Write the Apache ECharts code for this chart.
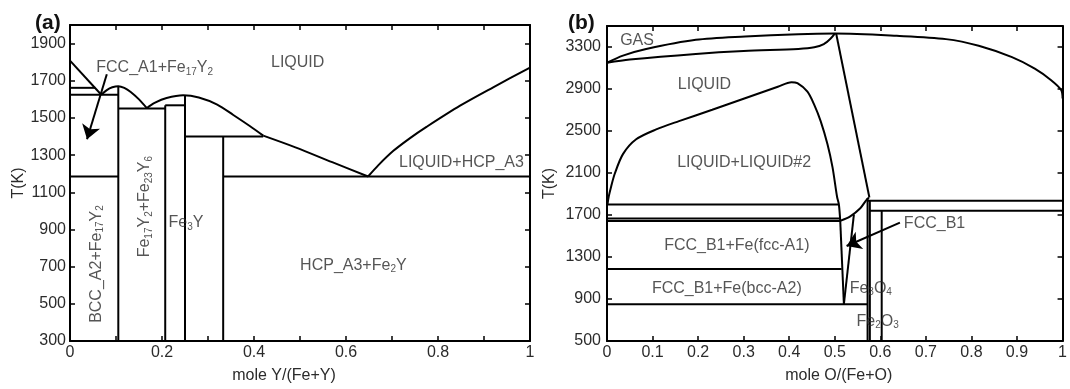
<!DOCTYPE html>
<html>
<head>
<meta charset="utf-8">
<script src="https://cdn.jsdelivr.net/npm/echarts@6/dist/echarts.min.js"></script>
<style>
  html, body { margin: 0; padding: 0; background: #fff; }
  #chart { width: 1070px; height: 389px; }
</style>
</head>
<body>
<div id="chart"></div>
<script>
// ---------- (a) Fe-Y ----------
const xLabelsA = [0, 0.2, 0.4, 0.6, 0.8, 1]
const yLabelsA = [300, 500, 700, 900, 1100, 1300, 1500, 1700, 1900]

// liquidus pieces (x = mole Y, T in K)
const liqFeSideA = [[0, 1808], [0.068, 1625]]
const liqFe17Y2A = [[0.068, 1625], [0.08, 1650], [0.092, 1665], [0.105, 1671], [0.118, 1662], [0.132, 1640], [0.15, 1600], [0.167, 1553]]
const liqFe3YA = [[0.167, 1553], [0.185, 1582], [0.21, 1607], [0.246, 1622], [0.28, 1610], [0.32, 1572], [0.355, 1516], [0.39, 1458], [0.42, 1405]]
const liqEutA = [[0.42, 1405], [0.49, 1342], [0.57, 1262], [0.648, 1185]]
const liqYSideA = [[0.648, 1185], [0.67, 1245], [0.703, 1323], [0.74, 1393], [0.775, 1452], [0.848, 1566], [0.92, 1665], [1, 1771]]

// invariant lines and compounds
const segmentsA = [
  [[0, 1662], [0.055, 1662]],
  [[0, 1625], [0.105, 1625]],
  [[0, 1185], [0.105, 1185]],
  [[0.333, 1185], [1, 1185]],
  [[0.105, 1551], [0.207, 1551]],
  [[0.207, 1568], [0.25, 1568]],
  [[0.25, 1400], [0.42, 1400]],
  [[0.105, 300], [0.105, 1671]],
  [[0.207, 300], [0.207, 1568]],
  [[0.25, 300], [0.25, 1622]],
  [[0.333, 300], [0.333, 1400]]
]
const arrowA = [[0.08, 1735], [0.037, 1385]]

// [text, x, T, rotate]
const labelsA = [
  ['LIQUID', 0.495, 1800, 0],
  ['FCC_A1+Fe_{17}Y_{2}', 0.184, 1770, 0],
  ['LIQUID+HCP_A3', 0.851, 1261, 0],
  ['HCP_A3+Fe_{2}Y', 0.616, 707, 0],
  ['BCC_A2+Fe_{17}Y_{2}', 0.058, 714, 90],
  ['Fe_{17}Y_{2}+Fe_{23}Y_{6}', 0.163, 1023, 90],
  ['Fe_{3}Y', 0.252, 935, 0]
]

// ---------- (b) Fe-O ----------
const xLabelsB = [0, 0.1, 0.2, 0.3, 0.4, 0.5, 0.6, 0.7, 0.8, 0.9, 1]
const yLabelsB = [500, 900, 1300, 1700, 2100, 2500, 2900, 3300]

const gasUpperB = [[0, 3150], [0.035, 3218], [0.086, 3281], [0.195, 3368], [0.303, 3400], [0.42, 3422], [0.5, 3428], [0.636, 3406], [0.744, 3375], [0.816, 3312], [0.889, 3203], [0.939, 3094], [0.975, 2984], [0.997, 2890], [1, 2810]]
const gasLowerB = [[0, 3150], [0.05, 3180], [0.195, 3234], [0.3, 3262], [0.42, 3282], [0.455, 3297], [0.476, 3328], [0.491, 3381], [0.5, 3428]]
const feoLiqB = [[0.503, 3428], [0.576, 1866]]
const gapB = [[0.001, 1800], [0.004, 1880], [0.009, 1970], [0.017, 2093], [0.035, 2280], [0.064, 2421], [0.108, 2515], [0.158, 2594], [0.231, 2702], [0.303, 2812], [0.375, 2922], [0.405, 2965], [0.418, 2955], [0.44, 2875], [0.455, 2749], [0.469, 2594], [0.484, 2374], [0.495, 2156], [0.505, 1874], [0.509, 1800], [0.512, 1644]]
const wusLiqB = [[0.512, 1644], [0.534, 1687], [0.556, 1764], [0.568, 1835], [0.575, 1866]]
const segmentsB = [
  [[0, 1800], [0.509, 1800]],
  [[0, 1667], [0.511, 1667]],
  [[0, 1644], [0.512, 1644]],
  [[0, 1185], [0.515, 1185]],
  [[0, 850], [0.572, 850]],
  [[0.572, 1835], [1, 1835]],
  [[0.577, 1741], [1, 1741]],
  [[0.512, 1644], [0.52, 850]],
  [[0.542, 1705], [0.52, 850]],
  [[0.572, 500], [0.572, 1862]],
  [[0.577, 500], [0.577, 1835]],
  [[0.603, 500], [0.603, 1741]]
]
const arrowB = [[0.643, 1628], [0.526, 1405]]

const labelsB = [
  ['GAS', 0.066, 3359, 0],
  ['LIQUID', 0.214, 2943, 0],
  ['LIQUID+LIQUID#2', 0.301, 2202, 0],
  ['FCC_B1+Fe(fcc-A1)', 0.285, 1405, 0],
  ['FCC_B1+Fe(bcc-A2)', 0.263, 999, 0],
  ['FCC_B1', 0.719, 1618, 0],
  ['Fe_{3}O_{4}', 0.579, 999, 0],
  ['Fe_{2}O_{3}', 0.594, 686, 0]
]

const FONT = '"Liberation Sans", Arial, sans-serif'
const TXT = '#2b2b2b'

const chart = echarts.init(document.getElementById('chart'))

function pick(list, v) {
  const m = list.find(l => Math.abs(l - v) < 1e-6)
  return m === undefined ? '' : String(m)
}

// 'Fe_{17}Y_{2}' -> rich text with subscripts
function toRich(s) {
  return s.split(/(_\{[^}]*\})/).filter(p => p).map(p =>
    p.startsWith('_{') ? '{s|' + p.slice(2, -1) + '}' : '{n|' + p + '}'
  ).join('')
}

const rich = {
  n: { fontSize: 16, fontFamily: FONT, color: TXT, lineHeight: 18 },
  s: { fontSize: 10, fontFamily: FONT, color: TXT, verticalAlign: 'bottom' }
}

function xAx(grid, pos, labels, name) {
  return {
    type: 'value', gridIndex: grid, position: pos, min: 0, max: 1, interval: 0.1,
    name: name || '', nameLocation: 'middle', nameGap: 27,
    nameTextStyle: { fontSize: 16, fontFamily: FONT, color: TXT, padding: grid === 0 ? [0, 32, 0, 0] : [0, 0, 0, 8] },
    axisLine: { show: true, onZero: false, lineStyle: { color: '#000', width: 2 } },
    axisTick: { show: true, inside: true, length: 5, lineStyle: { color: '#000', width: 1.5 } },
    axisLabel: { show: !!labels, margin: 4, fontSize: 16, fontFamily: FONT, color: TXT,
      formatter: v => labels ? pick(labels, v) : '' },
    splitLine: { show: false }
  }
}

function yAx(grid, pos, min, max, interval, labels, gap) {
  return {
    type: 'value', gridIndex: grid, position: pos, min, max, interval,
    name: labels ? 'T(K)' : '', nameLocation: 'middle', nameGap: gap || 40, nameRotate: 90,
    nameTextStyle: { fontSize: 16, fontFamily: FONT, color: TXT },
    axisLine: { show: true, onZero: false, lineStyle: { color: '#000', width: 2 } },
    axisTick: { show: true, inside: true, length: 5, lineStyle: { color: '#000', width: 1.5 } },
    axisLabel: { show: !!labels, margin: grid === 0 ? 4 : 6, fontSize: 16, fontFamily: FONT, color: TXT,
      formatter: v => labels ? pick(labels, v) : '' },
    splitLine: { show: false }
  }
}

function line(data, xi, yi, smooth) {
  return {
    type: 'line', xAxisIndex: xi, yAxisIndex: yi, data,
    symbol: 'none', showSymbol: false, smooth: smooth ? 0.3 : false,
    lineStyle: { color: '#000', width: 2 }, silent: true, z: 3
  }
}

function arrow(coords, xi, yi) {
  return {
    type: 'lines', coordinateSystem: 'cartesian2d', xAxisIndex: xi, yAxisIndex: yi,
    symbol: ['none', 'arrow'], symbolSize: [0, 14],
    lineStyle: { color: '#000', width: 2, opacity: 1, curveness: 0 },
    data: [{ coords }], silent: true, z: 4
  }
}

function texts(list, xi, yi) {
  return {
    type: 'scatter', xAxisIndex: xi, yAxisIndex: yi, symbolSize: 1,
    itemStyle: { color: 'rgba(0,0,0,0)' }, silent: true, z: 5,
    data: list.map(l => ({ name: l[0], value: [l[1], l[2]], label: { rotate: l[3] } })),
    label: { show: true, position: 'inside', formatter: p => toRich(p.name), rich }
  }
}

const series = [
  line(liqFeSideA, 0, 0, false),
  line(liqFe17Y2A, 0, 0, true),
  line(liqFe3YA, 0, 0, true),
  line(liqEutA, 0, 0, true),
  line(liqYSideA, 0, 0, true),
  ...segmentsA.map(s => line(s, 0, 0, false)),
  arrow(arrowA, 0, 0),
  texts(labelsA, 0, 0),

  line(gasUpperB, 2, 2, true),
  line(gasLowerB, 2, 2, true),
  line(feoLiqB, 2, 2, false),
  line(gapB, 2, 2, true),
  line(wusLiqB, 2, 2, true),
  ...segmentsB.map(s => line(s, 2, 2, false)),
  arrow(arrowB, 2, 2),
  texts(labelsB, 2, 2)
]

chart.setOption({
  animation: false,
  backgroundColor: '#fff',
  title: [
    { text: '(a)', left: 35, top: 13, padding: 0, textStyle: { fontSize: 21, fontWeight: 'bold', color: '#111', fontFamily: FONT } },
    { text: '(b)', left: 568, top: 13, padding: 0, textStyle: { fontSize: 21, fontWeight: 'bold', color: '#111', fontFamily: FONT } }
  ],
  grid: [
    { left: 70, top: 25, width: 460, height: 322 },
    { left: 607, top: 26, width: 461, height: 321 }
  ],
  xAxis: [
    xAx(0, 'bottom', xLabelsA, 'mole Y/(Fe+Y)'),
    xAx(0, 'top', null),
    xAx(1, 'bottom', xLabelsB, 'mole O/(Fe+O)'),
    xAx(1, 'top', null)
  ],
  yAxis: [
    yAx(0, 'left', 300, 2000, 200, yLabelsA, 40),
    yAx(0, 'right', 300, 2000, 200, null),
    yAx(1, 'left', 500, 3500, 400, yLabelsB, 49),
    yAx(1, 'right', 500, 3500, 400, null)
  ],
  series
})
</script>
</body>
</html>
